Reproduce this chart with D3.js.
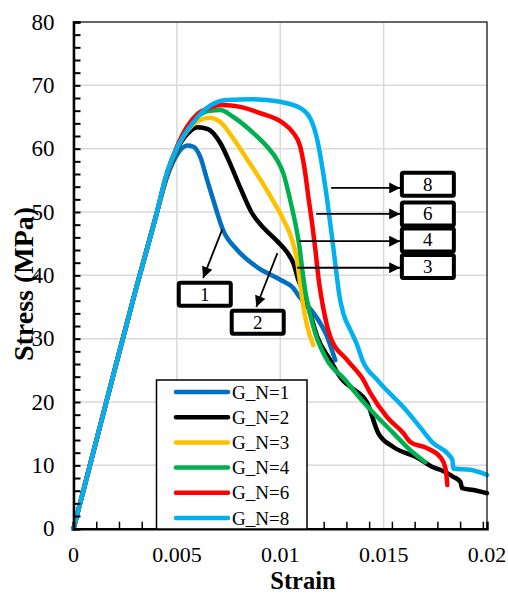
<!DOCTYPE html>
<html><head><meta charset="utf-8">
<script src="https://cdn.jsdelivr.net/npm/d3@7"></script>
<style>
html,body{margin:0;padding:0;background:#fff;}
svg{display:block;}
svg text{font-family:"Liberation Serif","Times New Roman",Times,Tinos,"Noto Serif","DejaVu Serif",FreeSerif,serif;}
</style></head>
<body>
<svg id="chart" width="508" height="594"></svg>
<script>
// ---- data ----
const seriesNames = ["G_N=1","G_N=2","G_N=3","G_N=4","G_N=6","G_N=8"];
const seriesColors = ["#0070C0","#000000","#FFC000","#00B050","#FF0000","#00B0F0"];
const rise = [[0,0],[0.001,12.6],[0.002,25.2],[0.003,37.6],[0.004,49.5]];
const gn1 = [[0.0045,55.3],[0.005,59.0],[0.0055,60.5],[0.0058,60.3],[0.00613,58.7],[0.00647,55.0],[0.00676,51.9],[0.00724,47.1],[0.00792,44.0],[0.00888,41.3],[0.0100,39.3],[0.01063,38.0],[0.01095,36.5],[0.0116,34.1],[0.01227,30.3],[0.01266,26.6]];
const gn2 = [[0.0045,55.6],[0.005,59.8],[0.0055,62.3],[0.006,63.4],[0.0065,63.1],[0.0071,60.9],[0.00758,57.6],[0.00807,53.8],[0.0086,50.0],[0.00925,47.3],[0.00985,45.4],[0.01034,43.6],[0.01065,41.8],[0.01087,39.3],[0.01115,37.2],[0.01145,34.0],[0.01179,30.3],[0.01242,26.6],[0.013,23.5],[0.01339,22.4],[0.0142,19.9],[0.01474,15.1],[0.01547,12.9],[0.01663,11.2],[0.0174,9.7],[0.01774,9.3],[0.01837,8.2],[0.01871,7.4],[0.0188,6.4],[0.01934,6.1],[0.02,5.6]];
const gn3 = [[0.0045,55.7],[0.005,60.0],[0.0055,62.8],[0.006,64.3],[0.0066,64.9],[0.0071,64.2],[0.00773,61.6],[0.0084,58.3],[0.0091,54.8],[0.0097,51.5],[0.01015,48.8],[0.01055,45.8],[0.0108,42.6],[0.01095,39.0],[0.0111,35.5],[0.0113,32.0],[0.0116,29.0]];
const gn4 = [[0.0045,55.8],[0.005,60.2],[0.0055,63.2],[0.006,65.1],[0.0066,66.0],[0.0071,66.1],[0.00773,65.0],[0.00869,62.5],[0.00937,60.3],[0.00985,58.2],[0.01015,56.1],[0.01048,51.9],[0.01073,48.2],[0.01093,44.5],[0.01107,40.8],[0.0112,37.7],[0.0114,34.5],[0.0117,30.8],[0.01227,26.6],[0.01314,23.5],[0.01353,21.9],[0.0145,18.3],[0.01547,15.1],[0.01629,12.4],[0.01702,10.5]];
const gn6 = [[0.0045,55.9],[0.005,60.3],[0.0055,63.5],[0.006,65.5],[0.0066,66.5],[0.0072,66.9],[0.00807,66.6],[0.00903,65.6],[0.01015,64.0],[0.01063,62.5],[0.01097,60.3],[0.01121,56.1],[0.01138,51.9],[0.01155,48.0],[0.0117,44.0],[0.01186,39.3],[0.01205,35.4],[0.01242,30.3],[0.01324,26.6],[0.01402,23.5],[0.01436,21.4],[0.01517,17.6],[0.01595,15.1],[0.01629,13.7],[0.01711,12.7],[0.01774,11.3],[0.01798,9.7],[0.01806,7.7],[0.01808,6.9]];
const gn8 = [[0.0045,56.0],[0.00503,60.3],[0.0058,64.2],[0.00661,66.8],[0.00743,67.7],[0.00869,67.8],[0.0100,67.4],[0.01097,66.4],[0.01145,64.8],[0.01179,61.4],[0.01208,56.1],[0.01227,51.9],[0.01252,45.6],[0.01272,40.3],[0.01285,37.0],[0.01305,34.0],[0.01339,31.4],[0.01372,29.0],[0.0140,26.4],[0.01469,23.5],[0.01499,22.4],[0.01595,19.2],[0.01677,16.0],[0.0174,13.5],[0.01808,11.9],[0.01833,10.8],[0.01837,9.5],[0.01919,9.3],[0.02,8.5]];
const seriesData = [gn1,gn2,gn3,gn4,gn6,gn8];
const xTickValues = [0,0.005,0.01,0.015,0.02];
const xTickLabels = ["0","0.005","0.01","0.015","0.02"];
const yTickValues = [0,10,20,30,40,50,60,70,80];
// annotations (data units)
const boxLabels = ["1","2","8","6","4","3"];
const boxCenters = [[0.00635,37.0],[0.00891,32.6],[0.01714,54.4],[0.01714,49.7],[0.01714,45.6],[0.01714,41.4]];
const arrowFrom = [[0.0072,47.3],[0.00986,43.5],[0.01246,53.8],[0.01174,49.7],[0.01092,45.4],[0.01082,41.2]];
const arrowTo   = [[0.00627,39.6],[0.00884,35.0],[0.0158,53.8],[0.0158,49.7],[0.0158,45.4],[0.0158,41.2]];

// ---- layout ----
const svg = d3.select("#chart");
const L = 73.5, R = 487, T = 22, B = 528.7;
const x = d3.scaleLinear().domain([0,0.02]).range([L,R]);
const y = d3.scaleLinear().domain([0,80]).range([B,T]);

// gridlines
const grid = svg.append("g");
grid.selectAll("line.h").data(yTickValues.slice(1,-1)).enter().append("line")
  .attr("x1",L).attr("x2",R).attr("y1",d=>y(d)).attr("y2",d=>y(d))
  .attr("stroke","#d9d9d9").attr("stroke-width",1.5);
grid.selectAll("line.v").data(xTickValues.slice(1,-1)).enter().append("line")
  .attr("y1",T).attr("y2",B).attr("x1",d=>x(d)).attr("x2",d=>x(d))
  .attr("stroke","#d9d9d9").attr("stroke-width",1.5);

// curves
const line = d3.line().x(d=>x(d[0])).y(d=>y(d[1])).curve(d3.curveMonotoneX);
const curves = svg.append("g");
seriesData.forEach((s,i)=>{
  curves.append("path").datum(rise.concat(s)).attr("d",line)
    .attr("fill","none").attr("stroke",seriesColors[i]).attr("stroke-width",4.5)
    .attr("stroke-linejoin","round").attr("stroke-linecap","round");
});

// frame
svg.append("rect").attr("x",L).attr("y",T).attr("width",R-L).attr("height",B-T)
  .attr("fill","none").attr("stroke","#000").attr("stroke-width",1.2);

// axes
const yAxis = d3.axisRight(y).tickValues(d3.range(0,81,2)).tickSize(7).tickFormat("");
const gy = svg.append("g").attr("transform",`translate(${L},0)`).call(yAxis);
gy.select(".domain").attr("stroke","#000").attr("stroke-width",2.5);
gy.selectAll(".tick line").attr("stroke","#000").attr("stroke-width",2);
const xAxis = d3.axisTop(x).tickValues(d3.range(0,0.0200,0.0011)).tickSize(7).tickFormat("");
const gx = svg.append("g").attr("transform",`translate(0,${B})`).call(xAxis);
gx.select(".domain").attr("stroke","#000").attr("stroke-width",2.5);
gx.selectAll(".tick line").attr("stroke","#000").attr("stroke-width",1.5);
svg.selectAll(".tick text").remove();

svg.append("g").selectAll("text").data(yTickValues).enter().append("text")
  .attr("x",L-19).attr("y",d=>y(d)+7.5).attr("text-anchor","end")
  .attr("font-size",23).attr("fill","#000").text(d=>d);
svg.append("g").selectAll("text").data(xTickValues).enter().append("text")
  .attr("x",d=>x(d)).attr("y",561.5).attr("text-anchor","middle")
  .attr("font-size",22).attr("fill","#000").text((d,i)=>xTickLabels[i]);

svg.append("text").attr("x",303).attr("y",588.5).attr("text-anchor","middle")
  .attr("font-size",24.5).attr("font-weight","bold").text("Strain");
svg.append("text").attr("transform","translate(33,284) rotate(-90)").attr("text-anchor","middle")
  .attr("font-size",28).attr("font-weight","bold").text("Stress (MPa)");

// legend
const lg = svg.append("g");
lg.append("rect").attr("x",156.5).attr("y",380).attr("width",150.5).attr("height",149)
  .attr("fill","#fff").attr("stroke","#000").attr("stroke-width",1.5);
seriesNames.forEach((n,i)=>{
  const yy = 392 + i*25.2;
  lg.append("line").attr("x1",176).attr("x2",228).attr("y1",yy).attr("y2",yy)
    .attr("stroke",seriesColors[i]).attr("stroke-width",4.5).attr("stroke-linecap","round");
  lg.append("text").attr("x",232).attr("y",yy+6.5).attr("font-size",19).attr("fill","#000").text(n);
});

// annotations
const defs = svg.append("defs");
defs.append("marker").attr("id","ah").attr("viewBox","0 0 10 10").attr("refX",10).attr("refY",5)
  .attr("markerWidth",14).attr("markerHeight",11).attr("markerUnits","userSpaceOnUse").attr("orient","auto")
  .append("path").attr("d","M0,0 L10,5 L0,10 z").attr("fill","#000");
const ann = svg.append("g");
arrowFrom.forEach((f,i)=>{
  ann.append("line").attr("x1",x(f[0])).attr("y1",y(f[1])).attr("x2",x(arrowTo[i][0])).attr("y2",y(arrowTo[i][1]))
    .attr("stroke","#000").attr("stroke-width",1.8).attr("marker-end","url(#ah)");
});
boxCenters.forEach((c,i)=>{
  const cx = x(c[0]), cy = y(c[1]);
  ann.append("rect").attr("x",cx-26).attr("y",cy-11.5).attr("width",52).attr("height",23)
    .attr("fill","#fff").attr("stroke","#000").attr("stroke-width",4).attr("rx",1.5);
  ann.append("text").attr("x",cx).attr("y",cy+6.5).attr("text-anchor","middle").attr("font-size",19).text(boxLabels[i]);
});
</script>
</body></html>
